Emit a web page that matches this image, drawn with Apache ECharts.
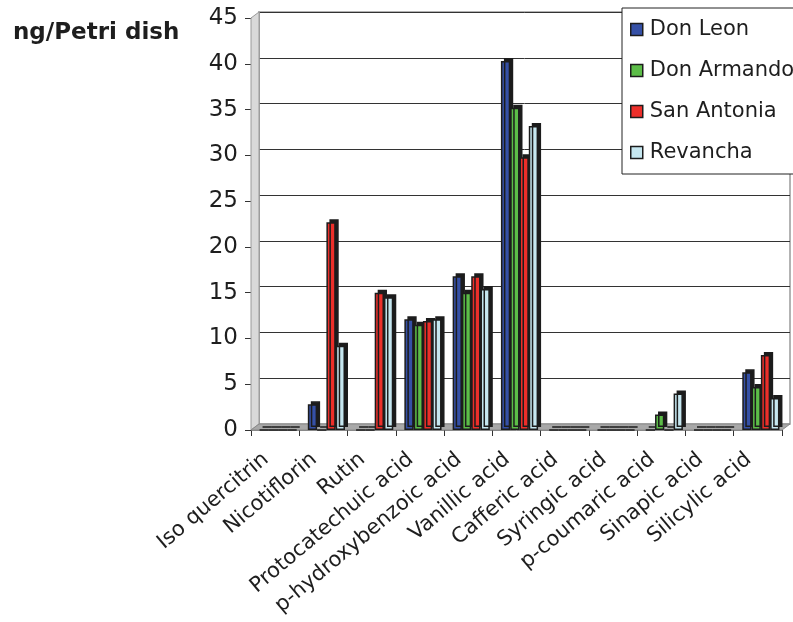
<!DOCTYPE html>
<html>
<head>
<meta charset="utf-8">
<script src="https://cdn.jsdelivr.net/npm/echarts@6/dist/echarts.min.js"></script>
<style>
  html, body { margin: 0; padding: 0; background: #fff; }
  #chart { width: 793px; height: 622px; }
</style>
</head>
<body>
<div id="chart"></div>
<script>
// Phenolic compounds per Petri dish, four cultivars
const categories = [
  'Iso quercitrin', 'Nicotiflorin', 'Rutin', 'Protocatechuic acid',
  'p-hydroxybenzoic acid', 'Vanillic acid', 'Cafferic acid', 'Syringic acid',
  'p-coumaric acid', 'Sinapic acid', 'Silicylic acid'
];
const donLeon    = [0, 2.8, 0, 12.1, 16.8, 40.3, 0, 0, 0, 0, 6.3];
const donArmando = [0, 0, 0, 11.5, 15.0, 35.2, 0, 0, 1.7, 0, 4.7];
const sanAntonia = [0, 22.7, 15.0, 11.9, 16.8, 29.8, 0, 0, 0, 0, 8.2];
const revancha   = [0, 9.2, 14.5, 12.1, 15.4, 33.2, 0, 0, 4.0, 0, 3.5];
const yTicks = [0, 5, 10, 15, 20, 25, 30, 35, 40, 45];

const seriesNames = ['Don Leon', 'Don Armando', 'San Antonia', 'Revancha'];
const seriesData = [donLeon, donArmando, sanAntonia, revancha];
const colors = ['#3550a6', '#5cbd48', '#ec2f2a', '#c6e7f0'];

const FONT = 'DejaVu Sans';
const yMin = yTicks[0], yMax = yTicks[yTicks.length - 1], yStep = yTicks[1] - yTicks[0];

const chart = echarts.init(document.getElementById('chart'), null, { renderer: 'canvas' });

// bars sit a little behind the front plane, so they use their own grid
const series = seriesNames.map((name, i) => ({
  name,
  type: 'bar',
  xAxisIndex: 2,
  yAxisIndex: 2,
  data: seriesData[i],
  barGap: '0%',
  barCategoryGap: '23%',
  z: 3,
  itemStyle: {
    color: colors[i],
    borderColor: '#1c1c1c',
    borderWidth: 1.5,
    shadowColor: '#1c1c1c',
    shadowBlur: 0,
    shadowOffsetX: 3,
    shadowOffsetY: -3
  },
  emphasis: { disabled: true }
}));

chart.setOption({
  animation: false,
  backgroundColor: '#ffffff',
  textStyle: { fontFamily: FONT },
  title: {
    text: 'ng/Petri dish',
    left: 8,
    top: 17,
    textStyle: { fontFamily: FONT, fontSize: 23, fontWeight: 'bold', color: '#1e1e1e' }
  },
  legend: {
    orient: 'vertical',
    left: 622,
    top: 8,
    itemWidth: 12,
    itemHeight: 12,
    itemGap: 20,
    padding: [11, 30, 11, 8],
    backgroundColor: '#ffffff',
    borderColor: '#222',
    borderWidth: 1,
    icon: 'rect',
    itemStyle: { borderColor: '#1c1c1c', borderWidth: 1.5 },
    textStyle: { fontFamily: FONT, fontSize: 21, color: '#1e1e1e', padding: [0, 0, 0, 2] },
    data: seriesNames
  },
  grid: [
    // back wall
    { left: 259, right: 3, top: 12, bottom: 198, show: true, backgroundColor: '#fff',
      borderColor: '#9a9a9a', borderWidth: 1.5 },
    // front plane
    { left: 251, right: 11, top: 18, bottom: 192 },
    // bar plane
    { left: 254, right: 8, top: 18, bottom: 192 }
  ],
  xAxis: [
    { type: 'category', gridIndex: 0, data: categories, show: false },
    {
      type: 'category', gridIndex: 1, data: categories,
      axisLine: { show: true, lineStyle: { color: '#888', width: 1 } },
      axisTick: { show: true, length: 6, lineStyle: { color: '#333' } },
      axisLabel: {
        interval: 0, rotate: 40, margin: 19,
        padding: [0, 12, 0, 0],
        fontFamily: FONT, fontSize: 21, color: '#1e1e1e'
      }
    },
    { type: 'category', gridIndex: 2, data: categories, show: false }
  ],
  yAxis: [
    {
      type: 'value', gridIndex: 0, min: yMin, max: yMax, interval: yStep,
      axisLabel: { show: false }, axisTick: { show: false },
      axisLine: { show: true, lineStyle: { color: '#9a9a9a', width: 1.5 } },
      splitLine: { show: true, lineStyle: { color: '#333', width: 1 } }
    },
    {
      type: 'value', gridIndex: 1, min: yMin, max: yMax, interval: yStep,
      axisLine: { show: true, lineStyle: { color: '#444', width: 1 } },
      axisTick: { show: true, length: 6, lineStyle: { color: '#333' } },
      splitLine: { show: false },
      axisLabel: { fontFamily: FONT, fontSize: 23, color: '#1e1e1e', margin: 13 }
    },
    {
      type: 'value', gridIndex: 2, min: yMin, max: yMax, interval: yStep, show: false,
      splitLine: { show: false }
    }
  ],
  series
});

// 3-D side wall and floor slabs joining the front plane to the back wall
function drawWalls() {
  const g1 = chart.getModel().getComponent('grid', 1).coordinateSystem.getRect();
  const g0 = chart.getModel().getComponent('grid', 0).coordinateSystem.getRect();
  chart.setOption({
    graphic: [
      {
        type: 'polygon', z: 1, silent: true,
        shape: { points: [[g1.x, g1.y], [g0.x, g0.y], [g0.x, g0.y + g0.height], [g1.x, g1.y + g1.height]] },
        style: { fill: '#d9d9d9', stroke: '#9a9a9a', lineWidth: 1 }
      },
      {
        type: 'polygon', z: 1, silent: true,
        shape: { points: [[g1.x, g1.y + g1.height], [g0.x, g0.y + g0.height],
                          [g0.x + g0.width, g0.y + g0.height], [g1.x + g1.width, g1.y + g1.height]] },
        style: { fill: '#a8a8a8', stroke: '#8a8a8a', lineWidth: 1 }
      }
    ]
  });
}
drawWalls();
</script>
</body>
</html>
